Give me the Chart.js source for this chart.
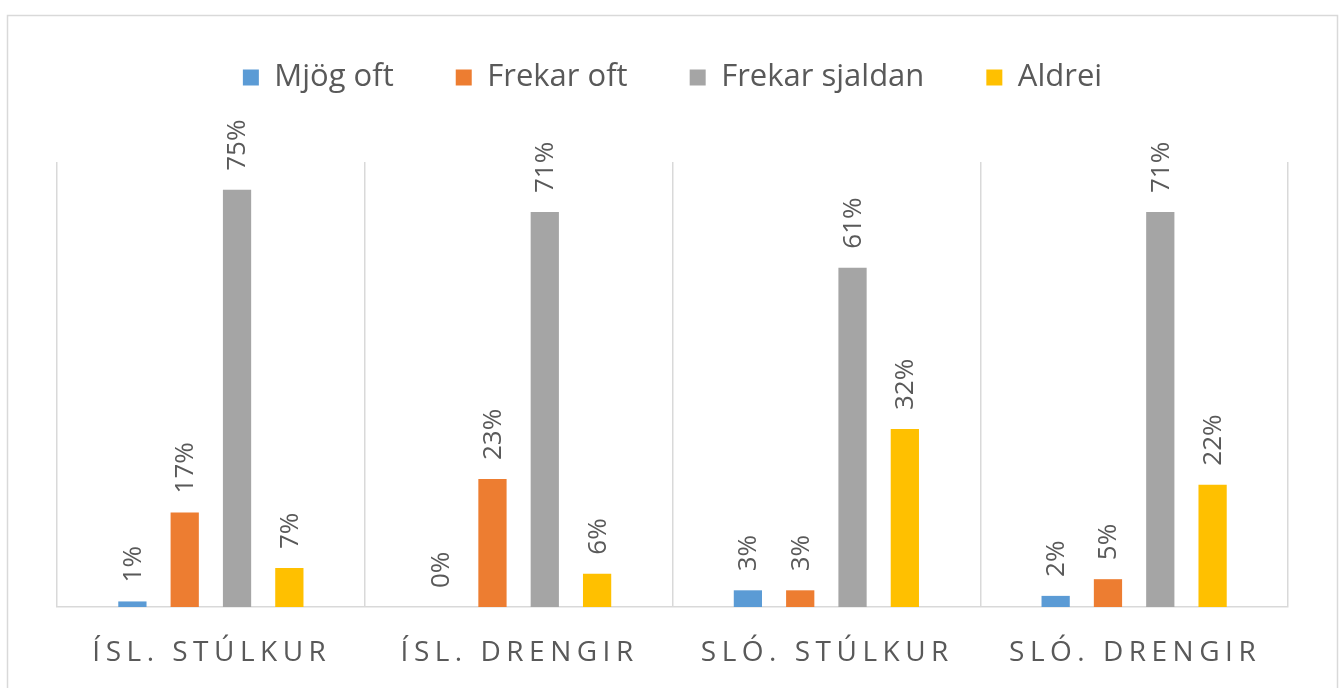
<!DOCTYPE html>
<html>
<head>
<meta charset="utf-8">
<script src="https://cdn.jsdelivr.net/npm/chart.js@4/dist/chart.umd.min.js"></script>
<style>
  html, body { margin: 0; padding: 0; background: #fff; }
  #wrap { width: 1344px; height: 688px; }
</style>
</head>
<body>
<div id="wrap"><canvas id="chart" width="1344" height="688"></canvas></div>
<script>
const categories = ['ÍSL. STÚLKUR', 'ÍSL. DRENGIR', 'SLÓ. STÚLKUR', 'SLÓ. DRENGIR'];
const seriesNames = ['Mjög oft', 'Frekar oft', 'Frekar sjaldan', 'Aldrei'];
const mjogOft = [1, 0, 3, 2];
const frekarOft = [17, 23, 3, 5];
const frekarSjaldan = [75, 71, 61, 71];
const aldrei = [7, 6, 32, 22];
const colors = ['#5B9BD5', '#ED7D31', '#A5A5A5', '#FFC000'];

const textGray = '#595959';
const fontFamily = '"Open Sans", "Noto Sans", sans-serif';

// frame around the whole chart
const framePlugin = {
    id: 'frame',
    beforeInit(chart) {
        // extra room under the legend
        const fit = chart.legend.fit;
        chart.legend.fit = function () {
            fit.bind(chart.legend)();
            this.height += 59;
        };
    },
    beforeDraw(chart) {
        const c = chart.ctx;
        c.save();
        c.fillStyle = '#fff';
        c.fillRect(0, 0, chart.width, chart.height);
        c.strokeStyle = '#D9D9D9';
        c.lineWidth = 1.5;
        c.strokeRect(7.5, 15.5, 1330, 700);
        c.restore();
    }
};

// rotated value labels above bars + spaced category labels
const labelPlugin = {
    id: 'labels',
    afterDatasetsDraw(chart) {
        const c = chart.ctx;
        c.save();
        c.fillStyle = textGray;
        c.font = '26px ' + fontFamily;
        chart.data.datasets.forEach((ds, i) => {
            const meta = chart.getDatasetMeta(i);
            meta.data.forEach((bar, j) => {
                c.save();
                c.translate(bar.x, bar.y - 19);
                c.rotate(-Math.PI / 2);
                c.textAlign = 'left';
                c.textBaseline = 'middle';
                c.fillText(ds.data[j] + '%', 0, 1);
                c.restore();
            });
        });
        const xs = chart.scales.x;
        c.font = '28px ' + fontFamily;
        c.letterSpacing = '5.5px';
        c.textAlign = 'center';
        c.textBaseline = 'middle';
        categories.forEach((lab, i) => {
            c.fillText(lab, xs.getPixelForTick(i) + 1, 653);
        });
        c.restore();
    }
};

const ctx = document.getElementById('chart').getContext('2d');
new Chart(ctx, {
    type: 'bar',
    data: {
        labels: categories,
        datasets: [mjogOft, frekarOft, frekarSjaldan, aldrei].map((d, i) => ({
            label: seriesNames[i],
            data: d,
            backgroundColor: colors[i],
            categoryPercentage: 0.68,
            barPercentage: 0.54
        }))
    },
    options: {
        responsive: false,
        animation: false,
        layout: { padding: { left: 57, right: 56, top: 0, bottom: 81 } },
        plugins: {
            tooltip: { enabled: false },
            legend: {
                position: 'top',
                labels: {
                    color: textGray,
                    font: { family: fontFamily, size: 31 },
                    boxWidth: 16,
                    boxHeight: 16,
                    padding: 62
                }
            }
        },
        scales: {
            x: {
                grid: { color: '#D9D9D9', lineWidth: 1.5, drawTicks: false, offset: true },
                border: { color: '#D9D9D9', width: 1.5 },
                ticks: { display: false }
            },
            y: {
                display: false,
                min: 0,
                max: 80
            }
        }
    },
    plugins: [framePlugin, labelPlugin]
});
</script>
</body>
</html>
